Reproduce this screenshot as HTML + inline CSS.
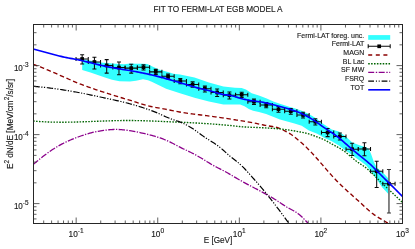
<!DOCTYPE html>
<html><head><meta charset="utf-8"><title>plot</title><style>html,body{margin:0;padding:0;background:#fff}body{width:415px;height:249px;overflow:hidden;position:relative;font-family:"Liberation Sans",sans-serif}</style></head><body>
<svg width="415" height="249" viewBox="0 0 415 249" style="position:absolute;left:0;top:0;filter:blur(0.35px)">
<rect width="415" height="249" fill="#fff"/>
<path d="M82.20,59.00 L100.60,62.50 L112.00,63.60 L124.00,64.20 L130.00,63.60 L136.00,63.70 L143.00,63.70 L147.30,64.10 L153.00,66.70 L158.90,69.40 L168.00,72.10 L173.40,73.70 L180.00,74.50 L194.50,77.40 L208.90,82.60 L223.40,86.60 L235.00,87.70 L241.60,88.00 L245.90,89.40 L251.70,93.20 L258.90,95.60 L266.10,98.20 L273.40,101.60 L280.60,104.10 L290.00,107.10 L294.50,108.20 L301.70,110.80 L308.90,113.90 L316.00,118.20 L323.40,124.00 L331.70,129.40 L338.90,131.40 L346.10,136.80 L352.20,142.50 L359.50,145.30 L366.70,147.40 L369.00,149.50 L371.00,153.70 L373.90,162.00 L376.80,167.40 L384.00,173.80 L389.30,179.50 L389.30,195.00 L382.10,187.30 L374.00,175.30 L366.00,165.30 L361.00,161.50 L348.50,152.50 L343.00,148.80 L338.90,145.50 L331.70,141.30 L324.50,138.10 L317.20,133.80 L308.90,130.40 L301.70,125.80 L294.50,123.60 L280.00,119.50 L266.10,114.00 L258.90,111.90 L253.10,110.70 L248.80,108.90 L244.50,106.30 L240.10,104.50 L230.00,104.50 L223.40,104.60 L208.90,101.40 L194.50,97.80 L180.00,93.30 L166.10,88.70 L158.90,85.30 L151.70,81.80 L148.00,80.20 L143.00,79.20 L136.00,80.80 L130.00,81.40 L119.50,81.20 L112.00,79.70 L105.00,77.60 L90.50,72.50 L82.20,70.00Z" fill="#3ff" stroke="none"/>
<clipPath id="c"><rect x="33.5" y="24.5" width="369.0" height="199.0"/></clipPath>
<g clip-path="url(#c)" fill="none">
<path d="M33.20,64.40 L34.98,65.01 L36.77,65.65 L38.55,66.30 L40.34,66.98 L42.12,67.67 L43.91,68.39 L45.69,69.12 L47.48,69.86 L49.26,70.61 L51.04,71.38 L52.83,72.15 L54.61,72.93 L56.40,73.72 L58.18,74.51 L59.97,75.30 L61.75,76.10 L63.54,76.89 L65.32,77.68 L67.10,78.47 L68.89,79.25 L70.67,80.03 L72.46,80.79 L74.24,81.55 L76.03,82.29 L77.81,83.02 L79.59,83.74 L81.38,84.44 L83.16,85.12 L84.95,85.79 L86.73,86.44 L88.52,87.09 L90.30,87.72 L92.09,88.33 L93.87,88.94 L95.65,89.55 L97.44,90.14 L99.22,90.73 L101.01,91.31 L102.79,91.89 L104.58,92.46 L106.36,93.04 L108.15,93.61 L109.93,94.18 L111.71,94.74 L113.50,95.31 L115.28,95.86 L117.07,96.41 L118.85,96.95 L120.64,97.49 L122.42,98.02 L124.21,98.55 L125.99,99.08 L127.77,99.61 L129.56,100.16 L131.34,100.73 L133.13,101.30 L134.91,101.88 L136.70,102.46 L138.48,103.04 L140.27,103.60 L142.05,104.15 L143.83,104.67 L145.62,105.17 L147.40,105.63 L149.19,106.06 L150.97,106.47 L152.76,106.85 L154.54,107.21 L156.33,107.56 L158.11,107.90 L159.89,108.23 L161.68,108.55 L163.46,108.88 L165.25,109.20 L167.03,109.53 L168.82,109.87 L170.60,110.22 L172.38,110.58 L174.17,110.95 L175.95,111.31 L177.74,111.67 L179.52,112.01 L181.31,112.33 L183.09,112.63 L184.88,112.91 L186.66,113.17 L188.44,113.41 L190.23,113.65 L192.01,113.88 L193.80,114.10 L195.58,114.32 L197.37,114.54 L199.15,114.77 L200.94,114.99 L202.72,115.21 L204.50,115.44 L206.29,115.66 L208.07,115.89 L209.86,116.12 L211.64,116.36 L213.43,116.59 L215.21,116.83 L217.00,117.08 L218.78,117.33 L220.56,117.58 L222.35,117.84 L224.13,118.10 L225.92,118.37 L227.70,118.64 L229.49,118.92 L231.27,119.20 L233.06,119.48 L234.84,119.77 L236.62,120.06 L238.41,120.34 L240.19,120.63 L241.98,120.92 L243.76,121.20 L245.55,121.50 L247.33,121.79 L249.12,122.10 L250.90,122.42 L252.68,122.75 L254.47,123.09 L256.25,123.46 L258.04,123.83 L259.82,124.21 L261.61,124.59 L263.39,124.97 L265.17,125.32 L266.96,125.66 L268.74,125.97 L270.53,126.26 L272.31,126.54 L274.10,126.86 L275.88,127.24 L277.67,127.74 L279.45,128.38 L281.23,129.16 L283.02,130.01 L284.80,130.88 L286.59,131.78 L288.37,132.74 L290.16,133.81 L291.94,135.03 L293.73,136.39 L295.51,137.82 L297.29,139.29 L299.08,140.74 L300.86,142.23 L302.65,143.79 L304.43,145.43 L306.22,147.13 L308.00,148.90 L309.79,150.72 L311.57,152.61 L313.35,154.54 L315.14,156.51 L316.92,158.52 L318.71,160.56 L320.49,162.61 L322.28,164.68 L324.06,166.75 L325.85,168.82 L327.63,170.88 L329.41,172.91 L331.20,174.92 L332.98,176.89 L334.77,178.81 L336.55,180.67 L338.34,182.48 L340.12,184.23 L341.91,185.94 L343.69,187.61 L345.47,189.25 L347.26,190.88 L349.04,192.49 L350.83,194.09 L352.61,195.70 L354.40,197.30 L356.18,198.91 L357.96,200.52 L359.75,202.15 L361.53,203.79 L363.32,205.45 L365.10,207.10 L366.89,208.72 L368.67,210.30 L370.46,211.81 L372.24,213.25 L374.02,214.58 L375.81,215.81 L377.59,216.96 L379.38,218.05 L381.16,219.10 L382.95,220.15 L384.73,221.22 L386.52,222.33 L388.30,223.50" stroke="#8b0000" stroke-width="1.35" stroke-dasharray="4.5,2.7"/>
<path d="M33.20,121.00 L35.06,121.17 L36.91,121.32 L38.77,121.46 L40.62,121.59 L42.48,121.70 L44.33,121.80 L46.19,121.89 L48.05,121.97 L49.90,122.04 L51.76,122.09 L53.61,122.13 L55.47,122.17 L57.33,122.19 L59.18,122.21 L61.04,122.22 L62.89,122.22 L64.75,122.21 L66.60,122.19 L68.46,122.17 L70.32,122.14 L72.17,122.10 L74.03,122.06 L75.88,122.02 L77.74,121.97 L79.59,121.91 L81.45,121.85 L83.31,121.79 L85.16,121.73 L87.02,121.66 L88.87,121.59 L90.73,121.52 L92.58,121.45 L94.44,121.38 L96.30,121.31 L98.15,121.24 L100.01,121.17 L101.86,121.10 L103.72,121.03 L105.58,120.96 L107.43,120.90 L109.29,120.84 L111.14,120.78 L113.00,120.73 L114.85,120.68 L116.71,120.64 L118.57,120.60 L120.42,120.56 L122.28,120.54 L124.13,120.52 L125.99,120.50 L127.84,120.50 L129.70,120.50 L131.56,120.51 L133.41,120.53 L135.27,120.55 L137.12,120.59 L138.98,120.63 L140.84,120.67 L142.69,120.72 L144.55,120.78 L146.40,120.84 L148.26,120.90 L150.11,120.97 L151.97,121.04 L153.83,121.12 L155.68,121.19 L157.54,121.27 L159.39,121.35 L161.25,121.43 L163.10,121.51 L164.96,121.59 L166.82,121.67 L168.67,121.75 L170.53,121.82 L172.38,121.90 L174.24,121.97 L176.09,122.04 L177.95,122.12 L179.81,122.19 L181.66,122.27 L183.52,122.35 L185.37,122.44 L187.23,122.53 L189.09,122.62 L190.94,122.71 L192.80,122.81 L194.65,122.91 L196.51,123.01 L198.36,123.12 L200.22,123.23 L202.08,123.34 L203.93,123.46 L205.79,123.58 L207.64,123.70 L209.50,123.83 L211.35,123.95 L213.21,124.09 L215.07,124.22 L216.92,124.36 L218.78,124.50 L220.63,124.65 L222.49,124.80 L224.35,124.96 L226.20,125.12 L228.06,125.30 L229.91,125.49 L231.77,125.70 L233.62,125.91 L235.48,126.13 L237.34,126.33 L239.19,126.52 L241.05,126.69 L242.90,126.83 L244.76,126.96 L246.61,127.06 L248.47,127.15 L250.33,127.23 L252.18,127.31 L254.04,127.38 L255.89,127.46 L257.75,127.53 L259.61,127.62 L261.46,127.70 L263.32,127.79 L265.17,127.89 L267.03,127.99 L268.88,128.10 L270.74,128.21 L272.60,128.34 L274.45,128.47 L276.31,128.61 L278.16,128.77 L280.02,128.94 L281.87,129.13 L283.73,129.34 L285.59,129.57 L287.44,129.81 L289.30,130.07 L291.15,130.36 L293.01,130.65 L294.86,130.96 L296.72,131.29 L298.58,131.63 L300.43,131.98 L302.29,132.35 L304.14,132.75 L306.00,133.18 L307.86,133.67 L309.71,134.22 L311.57,134.83 L313.42,135.49 L315.28,136.18 L317.13,136.88 L318.99,137.57 L320.85,138.29 L322.70,139.07 L324.56,139.93 L326.41,140.90 L328.27,141.94 L330.12,143.01 L331.98,144.06 L333.84,145.06 L335.69,146.04 L337.55,147.04 L339.40,148.09 L341.26,149.22 L343.12,150.44 L344.97,151.78 L346.83,153.23 L348.68,154.77 L350.54,156.36 L352.39,157.93 L354.25,159.47 L356.11,160.94 L357.96,162.32 L359.82,163.61 L361.67,164.81 L363.53,166.03 L365.38,167.35 L367.24,168.83 L369.10,170.45 L370.95,172.17 L372.81,173.97 L374.66,175.82 L376.52,177.70 L378.37,179.57 L380.23,181.42 L382.09,183.24 L383.94,185.03 L385.80,186.79 L387.65,188.54 L389.51,190.28 L391.37,192.01 L393.22,193.73 L395.08,195.46 L396.93,197.20 L398.79,198.95 L400.64,200.71 L402.50,202.50" stroke="#006400" stroke-width="1.35" stroke-dasharray="1.55,1.35"/>
<path d="M33.20,164.50 L34.58,163.36 L35.96,162.22 L37.34,161.08 L38.72,159.95 L40.10,158.82 L41.48,157.70 L42.86,156.60 L44.24,155.52 L45.62,154.46 L47.00,153.43 L48.38,152.43 L49.76,151.45 L51.14,150.50 L52.52,149.58 L53.90,148.69 L55.28,147.83 L56.66,146.99 L58.04,146.18 L59.42,145.40 L60.80,144.64 L62.18,143.91 L63.56,143.20 L64.94,142.51 L66.32,141.85 L67.70,141.21 L69.08,140.59 L70.46,139.99 L71.84,139.41 L73.22,138.85 L74.60,138.31 L75.98,137.77 L77.36,137.26 L78.74,136.75 L80.12,136.26 L81.50,135.77 L82.88,135.30 L84.26,134.84 L85.64,134.40 L87.02,133.97 L88.40,133.56 L89.78,133.16 L91.16,132.79 L92.54,132.44 L93.92,132.11 L95.30,131.81 L96.68,131.52 L98.06,131.26 L99.44,131.02 L100.82,130.79 L102.19,130.58 L103.57,130.38 L104.95,130.21 L106.33,130.04 L107.71,129.89 L109.09,129.76 L110.47,129.65 L111.85,129.56 L113.23,129.49 L114.61,129.46 L115.99,129.45 L117.37,129.46 L118.75,129.51 L120.13,129.58 L121.51,129.67 L122.89,129.79 L124.27,129.93 L125.65,130.09 L127.03,130.26 L128.41,130.46 L129.79,130.67 L131.17,130.89 L132.55,131.13 L133.93,131.38 L135.31,131.64 L136.69,131.92 L138.07,132.20 L139.45,132.49 L140.83,132.80 L142.21,133.10 L143.59,133.42 L144.97,133.74 L146.35,134.07 L147.73,134.41 L149.11,134.75 L150.49,135.10 L151.87,135.47 L153.25,135.84 L154.63,136.23 L156.01,136.64 L157.39,137.06 L158.77,137.51 L160.15,137.97 L161.53,138.46 L162.91,138.96 L164.29,139.50 L165.67,140.06 L167.05,140.64 L168.43,141.26 L169.81,141.91 L171.19,142.59 L172.57,143.29 L173.95,144.02 L175.33,144.75 L176.71,145.48 L178.09,146.21 L179.47,146.93 L180.85,147.63 L182.23,148.30 L183.61,148.96 L184.99,149.61 L186.37,150.26 L187.75,150.91 L189.13,151.57 L190.51,152.25 L191.89,152.95 L193.27,153.66 L194.65,154.39 L196.03,155.14 L197.41,155.91 L198.79,156.69 L200.17,157.49 L201.55,158.30 L202.93,159.13 L204.31,159.97 L205.69,160.83 L207.07,161.69 L208.45,162.56 L209.83,163.41 L211.21,164.24 L212.59,165.05 L213.97,165.82 L215.35,166.56 L216.73,167.28 L218.11,167.98 L219.49,168.68 L220.87,169.37 L222.25,170.07 L223.63,170.77 L225.01,171.50 L226.39,172.26 L227.77,173.03 L229.15,173.82 L230.53,174.63 L231.91,175.44 L233.29,176.26 L234.67,177.08 L236.05,177.90 L237.43,178.71 L238.81,179.50 L240.18,180.29 L241.56,181.06 L242.94,181.83 L244.32,182.58 L245.70,183.33 L247.08,184.08 L248.46,184.81 L249.84,185.55 L251.22,186.28 L252.60,187.00 L253.98,187.73 L255.36,188.46 L256.74,189.18 L258.12,189.91 L259.50,190.65 L260.88,191.38 L262.26,192.12 L263.64,192.87 L265.02,193.62 L266.40,194.39 L267.78,195.16 L269.16,195.94 L270.54,196.74 L271.92,197.54 L273.30,198.36 L274.68,199.20 L276.06,200.06 L277.44,200.93 L278.82,201.82 L280.20,202.74 L281.58,203.67 L282.96,204.60 L284.34,205.53 L285.72,206.42 L287.10,207.27 L288.48,208.05 L289.86,208.79 L291.24,209.51 L292.62,210.23 L294.00,210.99 L295.38,211.80 L296.76,212.70 L298.14,213.71 L299.52,214.82 L300.90,216.03 L302.28,217.31 L303.66,218.66 L305.04,220.07 L306.42,221.52 L307.80,223.00" stroke="#8b008b" stroke-width="1.28" stroke-dasharray="6.4,1.4,1.3,1.4"/>
<path d="M33.50,86.30 L34.78,86.41 L36.07,86.53 L37.35,86.65 L38.63,86.78 L39.91,86.90 L41.20,87.04 L42.48,87.17 L43.76,87.31 L45.04,87.46 L46.33,87.60 L47.61,87.76 L48.89,87.91 L50.17,88.07 L51.46,88.23 L52.74,88.40 L54.02,88.57 L55.31,88.74 L56.59,88.92 L57.87,89.10 L59.15,89.29 L60.44,89.47 L61.72,89.67 L63.00,89.86 L64.28,90.06 L65.57,90.26 L66.85,90.47 L68.13,90.68 L69.41,90.90 L70.70,91.11 L71.98,91.34 L73.26,91.56 L74.55,91.79 L75.83,92.02 L77.11,92.26 L78.39,92.50 L79.68,92.74 L80.96,92.98 L82.24,93.23 L83.52,93.49 L84.81,93.74 L86.09,94.00 L87.37,94.26 L88.65,94.53 L89.94,94.79 L91.22,95.06 L92.50,95.33 L93.79,95.60 L95.07,95.87 L96.35,96.14 L97.63,96.42 L98.92,96.69 L100.20,96.97 L101.48,97.24 L102.76,97.52 L104.05,97.80 L105.33,98.07 L106.61,98.35 L107.89,98.62 L109.18,98.90 L110.46,99.17 L111.74,99.45 L113.03,99.73 L114.31,100.01 L115.59,100.30 L116.87,100.58 L118.16,100.87 L119.44,101.17 L120.72,101.47 L122.00,101.77 L123.29,102.08 L124.57,102.40 L125.85,102.72 L127.13,103.04 L128.42,103.38 L129.70,103.72 L130.98,104.07 L132.27,104.43 L133.55,104.79 L134.83,105.16 L136.11,105.54 L137.40,105.93 L138.68,106.32 L139.96,106.72 L141.24,107.13 L142.53,107.54 L143.81,107.96 L145.09,108.38 L146.37,108.81 L147.66,109.25 L148.94,109.69 L150.22,110.15 L151.51,110.62 L152.79,111.10 L154.07,111.60 L155.35,112.11 L156.64,112.65 L157.92,113.20 L159.20,113.77 L160.48,114.35 L161.77,114.93 L163.05,115.52 L164.33,116.11 L165.61,116.68 L166.90,117.24 L168.18,117.78 L169.46,118.29 L170.74,118.78 L172.03,119.23 L173.31,119.67 L174.59,120.10 L175.88,120.53 L177.16,120.96 L178.44,121.42 L179.72,121.89 L181.01,122.40 L182.29,122.95 L183.57,123.53 L184.85,124.15 L186.14,124.80 L187.42,125.49 L188.70,126.20 L189.98,126.96 L191.27,127.74 L192.55,128.56 L193.83,129.40 L195.12,130.28 L196.40,131.19 L197.68,132.12 L198.96,133.06 L200.25,134.00 L201.53,134.94 L202.81,135.87 L204.09,136.78 L205.38,137.65 L206.66,138.50 L207.94,139.32 L209.22,140.12 L210.51,140.92 L211.79,141.72 L213.07,142.52 L214.36,143.35 L215.64,144.20 L216.92,145.08 L218.20,146.01 L219.49,146.99 L220.77,148.03 L222.05,149.12 L223.33,150.26 L224.62,151.41 L225.90,152.58 L227.18,153.74 L228.46,154.88 L229.75,155.99 L231.03,157.05 L232.31,158.06 L233.60,159.05 L234.88,160.04 L236.16,161.03 L237.44,162.04 L238.73,163.10 L240.01,164.21 L241.29,165.39 L242.57,166.63 L243.86,167.92 L245.14,169.26 L246.42,170.64 L247.70,172.04 L248.99,173.47 L250.27,174.90 L251.55,176.34 L252.84,177.78 L254.12,179.23 L255.40,180.69 L256.68,182.15 L257.97,183.62 L259.25,185.11 L260.53,186.60 L261.81,188.11 L263.10,189.64 L264.38,191.18 L265.66,192.74 L266.94,194.31 L268.23,195.91 L269.51,197.52 L270.79,199.15 L272.08,200.80 L273.36,202.46 L274.64,204.14 L275.92,205.83 L277.21,207.53 L278.49,209.23 L279.77,210.94 L281.05,212.66 L282.34,214.38 L283.62,216.11 L284.90,217.83 L286.18,219.56 L287.47,221.28 L288.75,223.00" stroke="#000" stroke-width="1.2" stroke-dasharray="6.3,1.5,1.2,1.5,1.2,1.7"/>
</g>
<g stroke="#0a0a0a" stroke-width="1.05" fill="none">
<path d="M82.15,54.75V64.00M80.15,54.75h4M80.15,64.00h4"/>
<path d="M76.03,59.00H88.27M76.03,57.00v4M88.27,57.00v4"/>
<path d="M94.42,57.30V68.90M92.42,57.30h4M92.42,68.90h4"/>
<path d="M88.30,62.00H100.54M88.30,60.00v4M100.54,60.00v4"/>
<path d="M106.69,59.60V73.10M104.69,59.60h4M104.69,73.10h4"/>
<path d="M100.58,65.40H112.81M100.58,63.40v4M112.81,63.40v4"/>
<path d="M118.97,62.00V74.80M116.97,62.00h4M116.97,74.80h4"/>
<path d="M112.85,67.50H125.08M112.85,65.50v4M125.08,65.50v4"/>
<path d="M131.24,64.30V73.10M129.24,64.30h4M129.24,73.10h4"/>
<path d="M125.12,68.10H137.36M125.12,66.10v4M137.36,66.10v4"/>
<path d="M143.51,64.65V69.95M141.51,64.65h4M141.51,69.95h4"/>
<path d="M137.39,67.25H149.63M137.39,65.25v4M149.63,65.25v4"/>
<path d="M155.78,69.35V74.45M153.78,69.35h4M153.78,74.45h4"/>
<path d="M149.66,71.85H161.90M149.66,69.85v4M161.90,69.85v4"/>
<path d="M168.05,73.90V78.70M166.05,73.90h4M166.05,78.70h4"/>
<path d="M161.94,76.30H174.17M161.94,74.30v4M174.17,74.30v4"/>
<path d="M180.33,78.40V83.70M178.33,78.40h4M178.33,83.70h4"/>
<path d="M174.21,81.00H186.44M174.21,79.00v4M186.44,79.00v4"/>
<path d="M192.60,81.80V87.20M190.60,81.80h4M190.60,87.20h4"/>
<path d="M186.48,84.40H198.72M186.48,82.40v4M198.72,82.40v4"/>
<path d="M204.87,86.10V91.90M202.87,86.10h4M202.87,91.90h4"/>
<path d="M198.75,88.70H210.99M198.75,86.70v4M210.99,86.70v4"/>
<path d="M217.14,88.90V96.50M215.14,88.90h4M215.14,96.50h4"/>
<path d="M211.02,92.50H223.26M211.02,90.50v4M223.26,90.50v4"/>
<path d="M229.41,92.05V99.05M227.41,92.05h4M227.41,99.05h4"/>
<path d="M223.30,95.25H235.53M223.30,93.25v4M235.53,93.25v4"/>
<path d="M241.69,92.30V97.50M239.69,92.30h4M239.69,97.50h4"/>
<path d="M235.57,94.80H247.80M235.57,92.80v4M247.80,92.80v4"/>
<path d="M253.96,99.10V104.50M251.96,99.10h4M251.96,104.50h4"/>
<path d="M247.84,101.70H260.08M247.84,99.70v4M260.08,99.70v4"/>
<path d="M266.23,102.40V107.80M264.23,102.40h4M264.23,107.80h4"/>
<path d="M260.11,105.00H272.35M260.11,103.00v4M272.35,103.00v4"/>
<path d="M278.50,106.40V112.20M276.50,106.40h4M276.50,112.20h4"/>
<path d="M272.38,109.20H284.62M272.38,107.20v4M284.62,107.20v4"/>
<path d="M290.77,108.40V114.20M288.77,108.40h4M288.77,114.20h4"/>
<path d="M284.66,111.20H296.89M284.66,109.20v4M296.89,109.20v4"/>
<path d="M303.05,112.20V118.00M301.05,112.20h4M301.05,118.00h4"/>
<path d="M296.93,115.00H309.16M296.93,113.00v4M309.16,113.00v4"/>
<path d="M315.32,118.70V125.00M313.32,118.70h4M313.32,125.00h4"/>
<path d="M309.20,121.70H321.44M309.20,119.70v4M321.44,119.70v4"/>
<path d="M327.59,128.40V136.60M325.59,128.40h4M325.59,136.60h4"/>
<path d="M321.47,132.50H333.71M321.47,130.50v4M333.71,130.50v4"/>
<path d="M339.86,133.00V139.90M337.86,133.00h4M337.86,139.90h4"/>
<path d="M333.74,136.40H345.98M333.74,134.40v4M345.98,134.40v4"/>
<path d="M352.13,143.20V155.45M350.13,143.20h4M350.13,155.45h4"/>
<path d="M346.02,149.20H358.25M346.02,147.20v4M358.25,147.20v4"/>
<path d="M364.41,142.70V155.65M362.41,142.70h4M362.41,155.65h4"/>
<path d="M358.29,148.90H370.52M358.29,146.90v4M370.52,146.90v4"/>
<path d="M376.68,161.25V187.50M374.68,161.25h4M374.68,187.50h4"/>
<path d="M370.56,171.25H382.80M370.56,169.25v4M382.80,169.25v4"/>
<path d="M388.95,169.50V212.95" stroke="#707070" stroke-width="1.7"/>
<path d="M386.95,169.50h4M386.95,212.95h4" stroke="#333"/>
<path d="M382.83,183.75H395.07M382.83,181.75v4M395.07,181.75v4"/>
</g>
<g fill="#000">
<rect x="80.30" y="57.15" width="3.7" height="3.7"/>
<rect x="92.57" y="60.15" width="3.7" height="3.7"/>
<rect x="104.84" y="63.55" width="3.7" height="3.7"/>
<rect x="117.12" y="65.65" width="3.7" height="3.7"/>
<rect x="129.39" y="66.25" width="3.7" height="3.7"/>
<rect x="141.66" y="65.40" width="3.7" height="3.7"/>
<rect x="153.93" y="70.00" width="3.7" height="3.7"/>
<rect x="166.20" y="74.45" width="3.7" height="3.7"/>
<rect x="178.48" y="79.15" width="3.7" height="3.7"/>
<rect x="190.75" y="82.55" width="3.7" height="3.7"/>
<rect x="203.02" y="86.85" width="3.7" height="3.7"/>
<rect x="215.29" y="90.65" width="3.7" height="3.7"/>
<rect x="227.56" y="93.40" width="3.7" height="3.7"/>
<rect x="239.84" y="92.95" width="3.7" height="3.7"/>
<rect x="252.11" y="99.85" width="3.7" height="3.7"/>
<rect x="264.38" y="103.15" width="3.7" height="3.7"/>
<rect x="276.65" y="107.35" width="3.7" height="3.7"/>
<rect x="288.92" y="109.35" width="3.7" height="3.7"/>
<rect x="301.20" y="113.15" width="3.7" height="3.7"/>
<rect x="313.47" y="119.85" width="3.7" height="3.7"/>
<rect x="325.74" y="130.65" width="3.7" height="3.7"/>
<rect x="338.01" y="134.55" width="3.7" height="3.7"/>
<rect x="350.28" y="147.35" width="3.7" height="3.7"/>
<rect x="362.56" y="147.05" width="3.7" height="3.7"/>
<rect x="374.83" y="169.40" width="3.7" height="3.7"/>
<rect x="387.10" y="181.90" width="3.7" height="3.7"/>
</g>
<path d="M33.20,49.00 L35.06,49.47 L36.91,49.96 L38.77,50.46 L40.62,50.96 L42.48,51.47 L44.33,51.99 L46.19,52.50 L48.05,53.02 L49.90,53.53 L51.76,54.03 L53.61,54.53 L55.47,55.02 L57.33,55.50 L59.18,55.96 L61.04,56.41 L62.89,56.83 L64.75,57.24 L66.60,57.62 L68.46,57.98 L70.32,58.33 L72.17,58.67 L74.03,59.02 L75.88,59.38 L77.74,59.76 L79.59,60.15 L81.45,60.57 L83.31,61.00 L85.16,61.44 L87.02,61.89 L88.87,62.35 L90.73,62.81 L92.58,63.27 L94.44,63.73 L96.30,64.19 L98.15,64.64 L100.01,65.08 L101.86,65.51 L103.72,65.92 L105.58,66.32 L107.43,66.70 L109.29,67.07 L111.14,67.42 L113.00,67.76 L114.85,68.09 L116.71,68.41 L118.57,68.72 L120.42,69.03 L122.28,69.33 L124.13,69.63 L125.99,69.94 L127.84,70.24 L129.70,70.55 L131.56,70.87 L133.41,71.20 L135.27,71.53 L137.12,71.87 L138.98,72.23 L140.84,72.60 L142.69,72.97 L144.55,73.36 L146.40,73.76 L148.26,74.17 L150.11,74.59 L151.97,75.02 L153.83,75.46 L155.68,75.91 L157.54,76.37 L159.39,76.84 L161.25,77.33 L163.10,77.82 L164.96,78.33 L166.82,78.84 L168.67,79.36 L170.53,79.89 L172.38,80.42 L174.24,80.97 L176.09,81.51 L177.95,82.07 L179.81,82.62 L181.66,83.19 L183.52,83.75 L185.37,84.31 L187.23,84.88 L189.09,85.44 L190.94,86.00 L192.80,86.55 L194.65,87.08 L196.51,87.59 L198.36,88.09 L200.22,88.55 L202.08,89.00 L203.93,89.42 L205.79,89.85 L207.64,90.28 L209.50,90.73 L211.35,91.22 L213.21,91.75 L215.07,92.31 L216.92,92.88 L218.78,93.42 L220.63,93.91 L222.49,94.33 L224.35,94.65 L226.20,94.88 L228.06,95.10 L229.91,95.38 L231.77,95.77 L233.62,96.26 L235.48,96.81 L237.34,97.39 L239.19,97.96 L241.05,98.49 L242.90,98.98 L244.76,99.41 L246.61,99.80 L248.47,100.14 L250.33,100.45 L252.18,100.73 L254.04,100.99 L255.89,101.24 L257.75,101.49 L259.61,101.76 L261.46,102.05 L263.32,102.37 L265.17,102.74 L267.03,103.15 L268.88,103.60 L270.74,104.07 L272.60,104.56 L274.45,105.05 L276.31,105.54 L278.16,106.03 L280.02,106.52 L281.87,107.01 L283.73,107.51 L285.59,108.02 L287.44,108.55 L289.30,109.10 L291.15,109.68 L293.01,110.28 L294.86,110.92 L296.72,111.60 L298.58,112.32 L300.43,113.08 L302.29,113.90 L304.14,114.77 L306.00,115.70 L307.86,116.68 L309.71,117.74 L311.57,118.86 L313.42,120.05 L315.28,121.31 L317.13,122.61 L318.99,123.94 L320.85,125.27 L322.70,126.60 L324.56,127.90 L326.41,129.15 L328.27,130.37 L330.12,131.57 L331.98,132.79 L333.84,134.04 L335.69,135.35 L337.55,136.74 L339.40,138.22 L341.26,139.78 L343.12,141.40 L344.97,143.05 L346.83,144.71 L348.68,146.36 L350.54,147.98 L352.39,149.56 L354.25,151.12 L356.11,152.65 L357.96,154.16 L359.82,155.66 L361.67,157.13 L363.53,158.61 L365.38,160.11 L367.24,161.65 L369.10,163.25 L370.95,164.95 L372.81,166.76 L374.66,168.64 L376.52,170.53 L378.37,172.41 L380.23,174.27 L382.09,176.12 L383.94,177.96 L385.80,179.80 L387.65,181.63 L389.51,183.46 L391.37,185.30 L393.22,187.14 L395.08,188.98 L396.93,190.84 L398.79,192.71 L400.64,194.59 L402.50,196.50" stroke="#0000ff" stroke-width="1.65" fill="none"/>
<g stroke="#262626" stroke-width="1" fill="none">
<rect x="33.5" y="24.5" width="369.0" height="199.0"/>
<path d="M43.69,223.5v-3M43.69,24.5v3M51.60,223.5v-3M51.60,24.5v3M58.06,223.5v-3M58.06,24.5v3M63.52,223.5v-3M63.52,24.5v3M68.25,223.5v-3M68.25,24.5v3M72.43,223.5v-3M72.43,24.5v3M76.16,223.5v-6M76.16,24.5v6M100.72,223.5v-3M100.72,24.5v3M115.09,223.5v-3M115.09,24.5v3M125.28,223.5v-3M125.28,24.5v3M133.18,223.5v-3M133.18,24.5v3M139.64,223.5v-3M139.64,24.5v3M145.11,223.5v-3M145.11,24.5v3M149.84,223.5v-3M149.84,24.5v3M154.01,223.5v-3M154.01,24.5v3M157.74,223.5v-6M157.74,24.5v6M182.30,223.5v-3M182.30,24.5v3M196.67,223.5v-3M196.67,24.5v3M206.86,223.5v-3M206.86,24.5v3M214.77,223.5v-3M214.77,24.5v3M221.23,223.5v-3M221.23,24.5v3M226.69,223.5v-3M226.69,24.5v3M231.42,223.5v-3M231.42,24.5v3M235.60,223.5v-3M235.60,24.5v3M239.33,223.5v-6M239.33,24.5v6M263.89,223.5v-3M263.89,24.5v3M278.26,223.5v-3M278.26,24.5v3M288.45,223.5v-3M288.45,24.5v3M296.36,223.5v-3M296.36,24.5v3M302.82,223.5v-3M302.82,24.5v3M308.28,223.5v-3M308.28,24.5v3M313.01,223.5v-3M313.01,24.5v3M317.18,223.5v-3M317.18,24.5v3M320.91,223.5v-6M320.91,24.5v6M345.47,223.5v-3M345.47,24.5v3M359.84,223.5v-3M359.84,24.5v3M370.03,223.5v-3M370.03,24.5v3M377.94,223.5v-3M377.94,24.5v3M384.40,223.5v-3M384.40,24.5v3M389.86,223.5v-3M389.86,24.5v3M394.59,223.5v-3M394.59,24.5v3M398.77,223.5v-3M398.77,24.5v3M33.5,218.91h3M402.5,218.91h-3M33.5,214.29h3M402.5,214.29h-3M33.5,210.29h3M402.5,210.29h-3M33.5,206.76h3M402.5,206.76h-3M33.5,203.60h6M402.5,203.60h-6M33.5,182.83h3M402.5,182.83h-3M33.5,170.68h3M402.5,170.68h-3M33.5,162.06h3M402.5,162.06h-3M33.5,155.37h3M402.5,155.37h-3M33.5,149.91h3M402.5,149.91h-3M33.5,145.29h3M402.5,145.29h-3M33.5,141.29h3M402.5,141.29h-3M33.5,137.76h3M402.5,137.76h-3M33.5,134.60h6M402.5,134.60h-6M33.5,113.83h3M402.5,113.83h-3M33.5,101.68h3M402.5,101.68h-3M33.5,93.06h3M402.5,93.06h-3M33.5,86.37h3M402.5,86.37h-3M33.5,80.91h3M402.5,80.91h-3M33.5,76.29h3M402.5,76.29h-3M33.5,72.29h3M402.5,72.29h-3M33.5,68.76h3M402.5,68.76h-3M33.5,65.60h6M402.5,65.60h-6M33.5,44.83h3M402.5,44.83h-3M33.5,32.68h3M402.5,32.68h-3" stroke-width="0.8" stroke="#3a3a3a"/>
</g>
<rect x="368.2" y="35.1" width="22.0" height="4.7" fill="#3ff"/>
<path d="M368.2,46.3H390.2M368.2,44.3v4M390.2,44.3v4" stroke="#0a0a0a" stroke-width="1.05" fill="none"/>
<rect x="377.34999999999997" y="44.449999999999996" width="3.7" height="3.7" fill="#000"/>
<path d="M368.2,55.0H390.2" stroke="#8b0000" stroke-width="1.35" stroke-dasharray="4,3.6" fill="none"/>
<path d="M368.2,63.7H390.2" stroke="#006400" stroke-width="1.35" stroke-dasharray="1.55,1.35" fill="none"/>
<path d="M368.2,72.4H390.2" stroke="#8b008b" stroke-width="1.28" stroke-dasharray="6.0,1.6,1.4,1.5" fill="none"/>
<path d="M368.2,81.1H390.2" stroke="#000" stroke-width="1.2" stroke-dasharray="5.8,1.9,1.0,1.8,1.0,1.9" fill="none"/>
<path d="M368.2,89.8H390.2" stroke="#0000ff" stroke-width="1.65" fill="none"/>
<g font-family="Liberation Sans, sans-serif" fill="#1a1a1a" stroke="#1a1a1a" stroke-width="0.15">
<g transform="translate(364.30,37.60) scale(0.92,1)"><text font-size="7.6" text-anchor="end" >Fermi-LAT foreg. unc.</text></g>
<g transform="translate(364.30,46.25) scale(0.92,1)"><text font-size="7.6" text-anchor="end" >Fermi-LAT</text></g>
<g transform="translate(364.30,54.90) scale(0.92,1)"><text font-size="7.6" text-anchor="end" >MAGN</text></g>
<g transform="translate(364.30,63.55) scale(0.92,1)"><text font-size="7.6" text-anchor="end" >BL Lac</text></g>
<g transform="translate(364.30,72.20) scale(0.92,1)"><text font-size="7.6" text-anchor="end" >SF MW</text></g>
<g transform="translate(364.30,80.85) scale(0.92,1)"><text font-size="7.6" text-anchor="end" >FSRQ</text></g>
<g transform="translate(364.30,89.50) scale(0.92,1)"><text font-size="7.6" text-anchor="end" >TOT</text></g>
<g transform="translate(218.00,12.40) scale(0.929,1)"><text font-size="8.9" text-anchor="middle" >FIT TO FERMI-LAT EGB MODEL A</text></g>
<g transform="translate(218.00,243.20) scale(0.932,1)"><text font-size="8.8" text-anchor="middle" >E [GeV]</text></g>
<g transform="translate(12.70,124.00) rotate(-90) scale(0.932,1)"><text font-size="8.8" text-anchor="middle" >E<tspan dy="-3.6" font-size="7">2</tspan><tspan dy="3.6"> dN/dE [MeV/cm</tspan><tspan dy="-3.6" font-size="7">2</tspan><tspan dy="3.6">/s/sr]</tspan></text></g>
<g transform="translate(76.06,237.00) scale(0.94,1)"><text font-size="8.8" text-anchor="middle" >10<tspan dy="-3.6" font-size="7">-1</tspan></text></g>
<g transform="translate(157.64,237.00) scale(0.94,1)"><text font-size="8.8" text-anchor="middle" >10<tspan dy="-3.6" font-size="7">0</tspan></text></g>
<g transform="translate(239.23,237.00) scale(0.94,1)"><text font-size="8.8" text-anchor="middle" >10<tspan dy="-3.6" font-size="7">1</tspan></text></g>
<g transform="translate(320.81,237.00) scale(0.94,1)"><text font-size="8.8" text-anchor="middle" >10<tspan dy="-3.6" font-size="7">2</tspan></text></g>
<g transform="translate(402.40,237.00) scale(0.94,1)"><text font-size="8.8" text-anchor="middle" >10<tspan dy="-3.6" font-size="7">3</tspan></text></g>
<g transform="translate(28.60,70.70) scale(0.92,1)"><text font-size="8.8" text-anchor="end" >10<tspan dy="-3.6" font-size="7">-3</tspan></text></g>
<g transform="translate(28.60,139.70) scale(0.92,1)"><text font-size="8.8" text-anchor="end" >10<tspan dy="-3.6" font-size="7">-4</tspan></text></g>
<g transform="translate(28.60,208.70) scale(0.92,1)"><text font-size="8.8" text-anchor="end" >10<tspan dy="-3.6" font-size="7">-5</tspan></text></g>
</g>
</svg>
</body></html>
